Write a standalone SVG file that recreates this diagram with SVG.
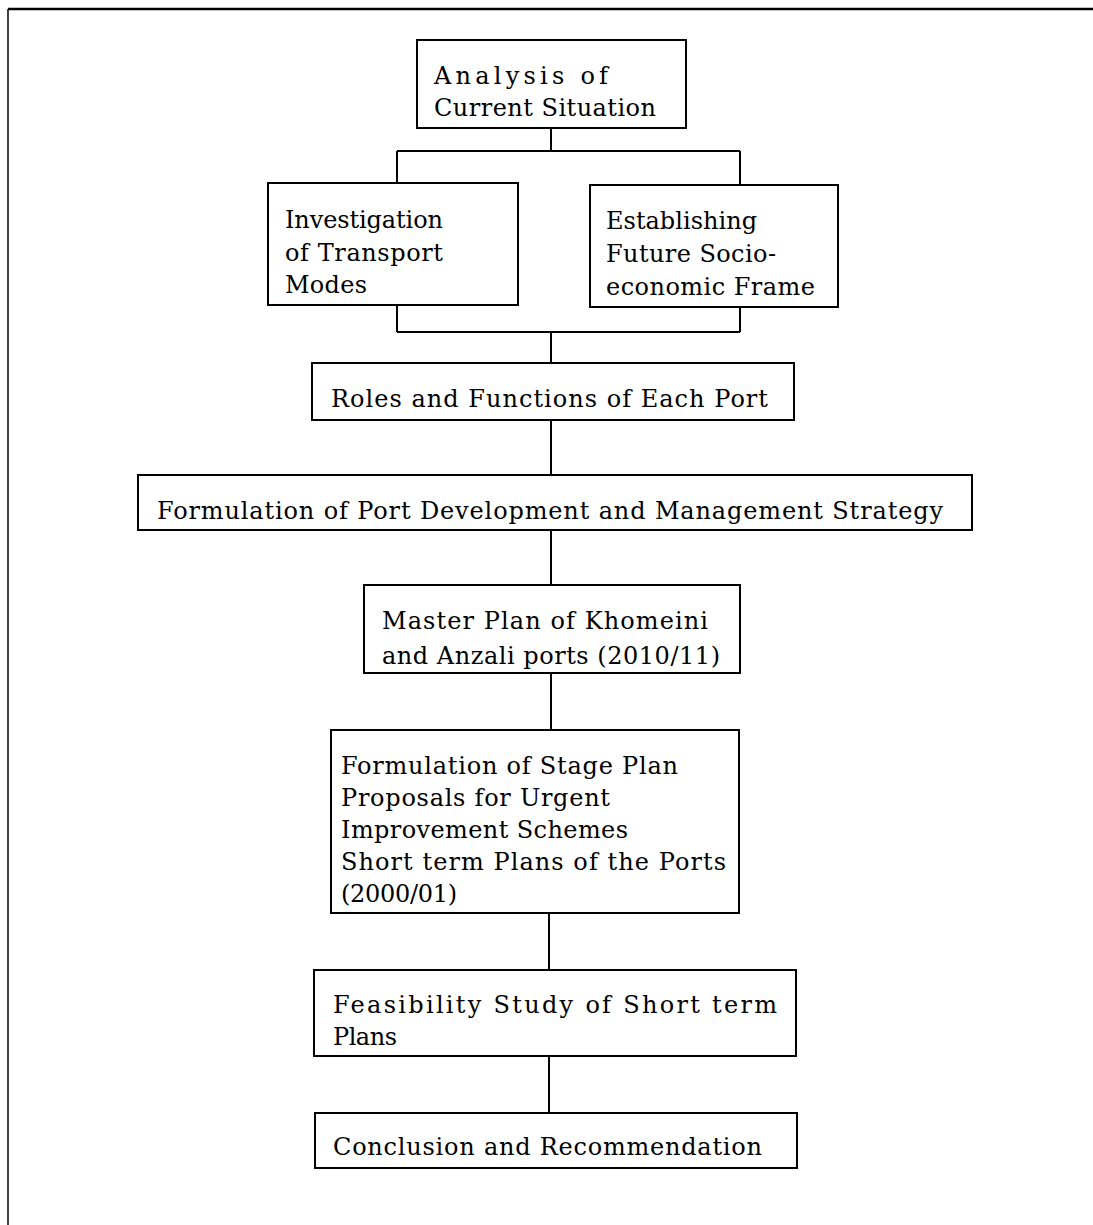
<svg xmlns="http://www.w3.org/2000/svg" width="1093" height="1225" viewBox="0 0 1093 1225">
<style>
.box{fill:#fff;stroke:#000;stroke-width:2}
.ln{fill:none;stroke:#000;stroke-width:2}
text{font-family:"DejaVu Serif","Liberation Serif",serif;font-size:24px;fill:#000}
</style>
<rect x="0" y="0" width="1093" height="1225" fill="#fff"/>
<g id="frame" class="ln">
<path d="M8,9 H1093" stroke-width="2.5"/>
<path d="M8,9 V1225" stroke-width="1.5"/>
</g>
<g id="connectors" class="ln">
<path d="M551,128 V151 M397,151 H740 M397,151 V183 M740,151 V185"/>
<path d="M397,305 V332 M740,307 V332 M397,332 H740 M551,332 V363"/>
<path d="M551,420 V475"/>
<path d="M551,530 V585"/>
<path d="M551,673 V730"/>
<path d="M549,913 V970"/>
<path d="M549,1056 V1113"/>
</g>
<g id="n1">
<rect class="box" x="417" y="40" width="269" height="88"/>
<text x="434" y="84" textLength="174" lengthAdjust="spacing">Analysis of</text>
<text x="434" y="116" textLength="222" lengthAdjust="spacing">Current Situation</text>
</g>
<g id="n2">
<rect class="box" x="268" y="183" width="250" height="122"/>
<text x="285" y="228" textLength="158" lengthAdjust="spacing">Investigation</text>
<text x="285" y="261" textLength="158" lengthAdjust="spacing">of Transport</text>
<text x="285" y="293" textLength="82" lengthAdjust="spacing">Modes</text>
</g>
<g id="n3">
<rect class="box" x="590" y="185" width="248" height="122"/>
<text x="606" y="229" textLength="151" lengthAdjust="spacing">Establishing</text>
<text x="606" y="262" textLength="170" lengthAdjust="spacing">Future Socio-</text>
<text x="606" y="295" textLength="209" lengthAdjust="spacing">economic Frame</text>
</g>
<g id="n4">
<rect class="box" x="312" y="363" width="482" height="57"/>
<text x="331" y="407" textLength="437" lengthAdjust="spacing">Roles and Functions of Each Port</text>
</g>
<g id="n5">
<rect class="box" x="138" y="475" width="834" height="55"/>
<text x="157" y="519" textLength="786" lengthAdjust="spacing">Formulation of Port Development and Management Strategy</text>
</g>
<g id="n6">
<rect class="box" x="364" y="585" width="376" height="88"/>
<text x="382" y="629" textLength="326" lengthAdjust="spacing">Master Plan of Khomeini</text>
<text x="382" y="664" textLength="338" lengthAdjust="spacing">and Anzali ports (2010/11)</text>
</g>
<g id="n7">
<rect class="box" x="331" y="730" width="408" height="183"/>
<text x="341" y="774" textLength="337" lengthAdjust="spacing">Formulation of Stage Plan</text>
<text x="341" y="806" textLength="269" lengthAdjust="spacing">Proposals for Urgent</text>
<text x="341" y="838" textLength="287" lengthAdjust="spacing">Improvement Schemes</text>
<text x="341" y="870" textLength="385" lengthAdjust="spacing">Short term Plans of the Ports</text>
<text x="341" y="902" textLength="116" lengthAdjust="spacing">(2000/01)</text>
</g>
<g id="n8">
<rect class="box" x="314" y="970" width="482" height="86"/>
<text x="333" y="1013" textLength="444" lengthAdjust="spacing">Feasibility Study of Short term</text>
<text x="333" y="1045" textLength="64" lengthAdjust="spacing">Plans</text>
</g>
<g id="n9">
<rect class="box" x="315" y="1113" width="482" height="55"/>
<text x="333" y="1155" textLength="429" lengthAdjust="spacing">Conclusion and Recommendation</text>
</g>
</svg>
